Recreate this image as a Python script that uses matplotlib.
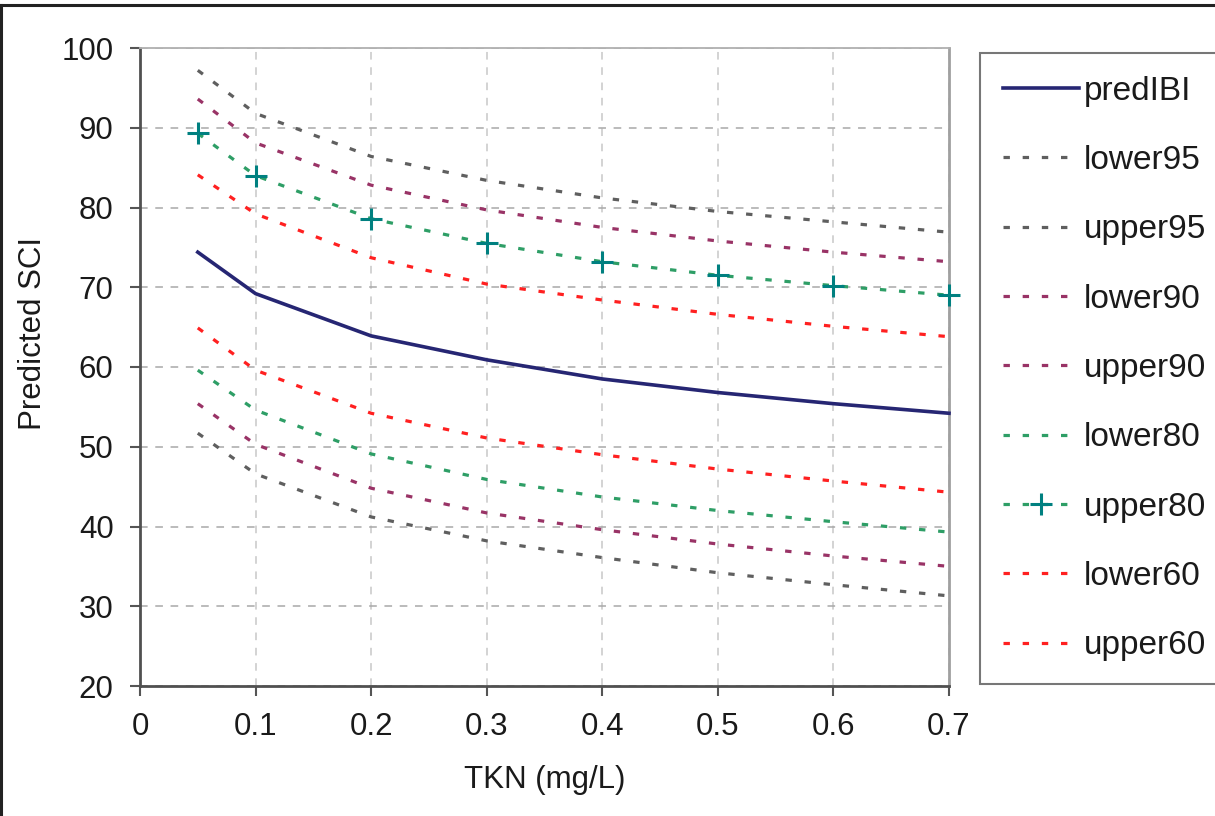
import matplotlib
matplotlib.use("Agg")
import matplotlib.pyplot as plt
from matplotlib.lines import Line2D

plt.rcParams['font.family'] = ['Liberation Sans', 'DejaVu Sans']

tkn = [0.05, 0.1, 0.2, 0.3, 0.4, 0.5, 0.6, 0.7]
predIBI = [74.4, 69.2, 63.9, 60.9, 58.5, 56.8, 55.4, 54.2]
lower95 = [51.7, 46.6, 41.2, 38.2, 36.1, 34.2, 32.7, 31.3]
upper95 = [97.2, 91.8, 86.4, 83.4, 81.2, 79.5, 78.2, 76.9]
lower90 = [55.4, 50.3, 44.8, 41.7, 39.6, 37.8, 36.3, 35.0]
upper90 = [93.6, 88.1, 82.8, 79.7, 77.5, 75.8, 74.4, 73.2]
lower80 = [59.6, 54.6, 49.1, 45.9, 43.7, 42.0, 40.6, 39.3]
upper80 = [89.3, 84.0, 78.6, 75.5, 73.2, 71.5, 70.2, 69.0]
lower60 = [64.9, 59.6, 54.2, 51.1, 49.0, 47.2, 45.7, 44.3]
upper60 = [84.1, 79.2, 73.7, 70.4, 68.4, 66.6, 65.1, 63.8]

xticks = [0, 0.1, 0.2, 0.3, 0.4, 0.5, 0.6, 0.7]
xticklabels = ['0', '0.1', '0.2', '0.3', '0.4', '0.5', '0.6', '0.7']
yticks = [20, 30, 40, 50, 60, 70, 80, 90, 100]

GRAY = '#5f5f5f'
PURPLE = '#993366'
GREEN = '#2e9e66'
RED = '#ff2020'
NAVY = '#262673'
TEAL = '#008080'

fig = plt.figure(figsize=(12.15, 8.16), dpi=100)
ax = fig.add_axes([140/1215, 1-686/816, (949-140)/1215, (686-48)/816])

dot = (0, (2.0, 4.0))
lw = 2.3

ax.plot(tkn, predIBI, color=NAVY, lw=2.6, label='predIBI', zorder=5)
ax.plot(tkn, lower95, color=GRAY, lw=lw, ls=dot, label='lower95')
ax.plot(tkn, upper95, color=GRAY, lw=lw, ls=dot, label='upper95')
ax.plot(tkn, lower90, color=PURPLE, lw=lw, ls=dot, label='lower90')
ax.plot(tkn, upper90, color=PURPLE, lw=lw, ls=dot, label='upper90')
ax.plot(tkn, lower80, color=GREEN, lw=lw, ls=dot, label='lower80')
ax.plot(tkn, upper80, color=GREEN, lw=lw, ls=dot, marker='+', markersize=16,
        markeredgewidth=2.2, markeredgecolor=TEAL, label='upper80', zorder=6)
ax.plot(tkn, lower60, color=RED, lw=lw, ls=dot, label='lower60')
ax.plot(tkn, upper60, color=RED, lw=lw, ls=dot, label='upper60')

for ln in ax.lines:
    ln.set_clip_on(False)

ax.set_xlim(0, 0.7)
ax.set_ylim(20, 100)
ax.set_xticks(xticks)
ax.set_xticklabels(xticklabels)
ax.set_yticks(yticks)

ax.tick_params(axis='both', labelsize=22.5, direction='out', length=7, width=1.5,
               color='#555555', pad=12, labelcolor='#1a1a1a')

ax.yaxis.grid(True, color='#a8a8a8', ls=(0, (5, 5)), lw=1.1)
ax.xaxis.grid(True, color='#c8c8c8', ls=(0, (5, 5)), lw=1.1)
ax.set_axisbelow(True)

ax.spines['left'].set_color('#505050')
ax.spines['left'].set_linewidth(2)
ax.spines['bottom'].set_color('#505050')
ax.spines['bottom'].set_linewidth(2)
ax.spines['top'].set_color('#b0b0b0')
ax.spines['top'].set_linewidth(1.3)
ax.spines['right'].set_color('#a0a0a0')
ax.spines['right'].set_linewidth(2)

ax.set_xlabel('TKN (mg/L)', fontsize=22.5, color='#1a1a1a', labelpad=16)
ax.set_ylabel('Predicted SCI', fontsize=22.5, color='#1a1a1a')
ax.yaxis.set_label_coords(-0.114, (686-334)/638)

leg = fig.legend(loc='upper left', bbox_to_anchor=(980/1215, 1-53/816),
                 fontsize=24, frameon=True, fancybox=False,
                 handlelength=2.3, handletextpad=0.14, labelspacing=1.15,
                 borderpad=0.68, borderaxespad=0)
leg.get_frame().set_edgecolor('#555555')
leg.get_frame().set_linewidth(1.5)
for t in leg.get_texts():
    t.set_color('#1a1a1a')

# outer border (left and top)
fig.add_artist(Line2D([1/1215, 1/1215], [0, 1-5/816], transform=fig.transFigure,
                      color='#222222', lw=2.2))
fig.add_artist(Line2D([0, 1], [1-5/816, 1-5/816], transform=fig.transFigure,
                      color='#222222', lw=2.2))

fig.savefig('out.png', dpi=100)
